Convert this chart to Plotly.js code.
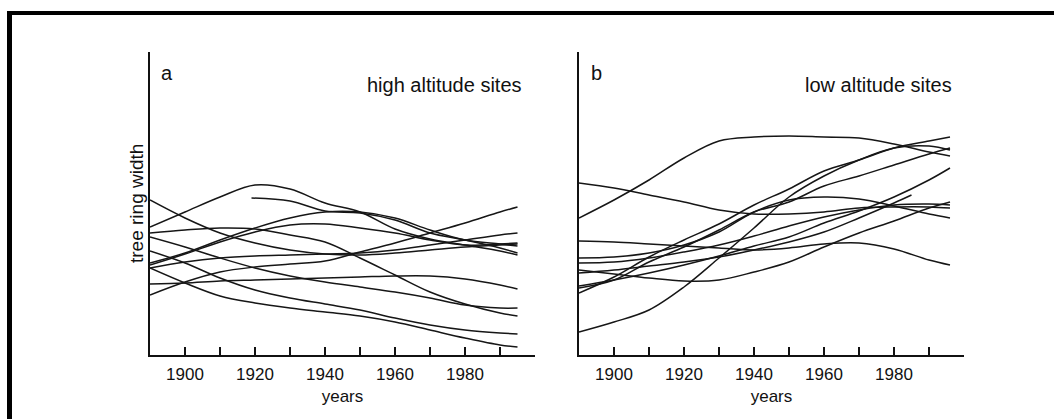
<!DOCTYPE html>
<html><head><meta charset="utf-8">
<script src="https://cdn.plot.ly/plotly-3.0.1.min.js"></script>
<style>html,body{margin:0;padding:0;background:#fff;}#chart{width:1054px;height:419px;}</style>
</head><body><div id="chart"></div>
<script>
// ---- Panel a: high altitude sites (tree ring width index, arbitrary units) ----
const yearsA = [1890,1900,1910,1920,1930,1940,1950,1960,1970,1980,1990,1995];
const yearsA2 = [1919,1930,1940,1950,1960,1970,1980,1990,1995];
const highA1 = [1.28,1.43,1.58,1.70,1.66,1.52,1.43,1.26,1.16,1.10,1.04,1.00];
const highA2 = [1.57,1.54,1.44,1.42,1.35,1.22,1.15,1.07,1.02];
const highA3 = [1.55,1.37,1.22,1.12,1.05,1.01,1.00,1.02,1.05,1.08,1.10,1.11];
const highA4 = [0.92,1.02,1.15,1.27,1.37,1.43,1.43,1.37,1.25,1.15,1.11,1.09];
const highA5 = [0.90,1.01,1.13,1.23,1.30,1.31,1.27,1.22,1.15,1.10,1.11,1.12];
const highA6 = [0.60,0.73,0.83,0.88,0.91,0.94,1.03,1.12,1.22,1.32,1.43,1.48];
const highA7 = [0.87,0.93,0.97,0.99,1.00,1.01,1.02,1.05,1.10,1.15,1.20,1.22];
const highA8 = [0.71,0.72,0.74,0.75,0.76,0.77,0.78,0.79,0.79,0.76,0.70,0.66];
const highA9 = [1.22,1.25,1.27,1.26,1.20,1.13,0.97,0.80,0.63,0.51,0.42,0.39];
const highA10 = [1.18,1.08,0.97,0.87,0.79,0.73,0.68,0.63,0.57,0.50,0.47,0.47];
const highA11 = [1.04,0.92,0.77,0.65,0.57,0.51,0.45,0.37,0.30,0.25,0.22,0.21];
const highA12 = [0.87,0.72,0.59,0.52,0.47,0.43,0.39,0.33,0.25,0.17,0.10,0.08];

// ---- Panel b: low altitude sites ----
const yearsB = [1890,1900,1910,1920,1930,1940,1950,1960,1970,1980,1990,1996];
const yearsB9 = [1890,1900,1910,1920,1930,1940,1950,1960,1970,1980,1985];
const lowB1 = [1.37,1.55,1.75,1.97,2.14,2.18,2.19,2.18,2.17,2.11,2.03,1.99];
const lowB2 = [1.72,1.67,1.60,1.53,1.45,1.41,1.41,1.43,1.47,1.48,1.48,1.47];
const lowB3 = [1.14,1.13,1.11,1.09,1.07,1.05,1.07,1.11,1.12,1.06,0.95,0.90];
const lowB4 = [0.23,0.33,0.45,0.68,0.97,1.27,1.58,1.79,1.95,2.07,2.09,2.05];
const lowB5 = [0.85,0.81,0.77,0.74,0.75,0.83,0.93,1.08,1.22,1.34,1.47,1.53];
const lowB6 = [0.62,0.78,0.98,1.15,1.31,1.50,1.66,1.84,1.95,2.07,2.14,2.18];
const lowB7 = [0.67,0.75,0.93,1.08,1.25,1.43,1.53,1.69,1.79,1.90,2.01,2.07];
const lowB8 = [0.69,0.75,0.82,0.90,0.99,1.09,1.18,1.32,1.44,1.58,1.75,1.87];
const lowB9 = [0.82,0.85,0.89,0.93,0.98,1.05,1.13,1.23,1.37,1.52,1.60];
const lowB10 = [0.97,0.98,1.02,1.10,1.23,1.43,1.55,1.58,1.56,1.49,1.41,1.37];
const lowB11 = [0.92,0.93,0.97,1.03,1.10,1.19,1.29,1.38,1.45,1.50,1.51,1.50];

const tickVals = [1900,1910,1920,1930,1940,1950,1960,1970,1980,1990,2000];
const tickText = ['1900','','1920','','1940','','1960','','1980','',''];
const panelLetters = ['a','b'];
const panelTitles = ['high altitude sites','low altitude sites'];
const xTitle = 'years';
const yTitle = 'tree ring width';

const FONT = 'Liberation Sans, Arial, Helvetica, sans-serif';
const lineStyle = {color:'#161616', width:1.5, shape:'spline', smoothing:1};

const seriesA = [[yearsA,highA1],[yearsA2,highA2],[yearsA,highA3],[yearsA,highA4],[yearsA,highA5],[yearsA,highA6],
  [yearsA,highA7],[yearsA,highA8],[yearsA,highA9],[yearsA,highA10],[yearsA,highA11],[yearsA,highA12]];
const seriesB = [[yearsB,lowB1],[yearsB,lowB2],[yearsB,lowB3],[yearsB,lowB4],[yearsB,lowB5],[yearsB,lowB6],
  [yearsB,lowB7],[yearsB,lowB8],[yearsB9,lowB9],[yearsB,lowB10],[yearsB,lowB11]];

const traces = [];
seriesA.forEach(s => traces.push({x:s[0], y:s[1], type:'scatter', mode:'lines', line:lineStyle, xaxis:'x', yaxis:'y', hoverinfo:'skip'}));
seriesB.forEach(s => traces.push({x:s[0], y:s[1], type:'scatter', mode:'lines', line:lineStyle, xaxis:'x2', yaxis:'y2', hoverinfo:'skip'}));

const W = 1054, H = 419;
const px = v => v / W;
const py = v => 1 - v / H;

function xaxisDef(d0, d1, anchor){
  return {
    domain:[px(d0), px(d1)], range:[1890, 2000], anchor:anchor,
    showline:true, linecolor:'#111', linewidth:2, mirror:false,
    showgrid:false, zeroline:false,
    ticks:'inside', ticklen:8, tickwidth:1.5, tickcolor:'#111',
    tickmode:'array', tickvals:tickVals, ticktext:tickText,
    ticklabelstandoff:3,
    tickfont:{family:FONT, size:17, color:'#111'},
    title:{text:xTitle, font:{family:FONT, size:17, color:'#111'}, standoff:7},
    fixedrange:true
  };
}
function yaxisDef(anchor){
  return {
    domain:[py(355), py(52)], range:[0, 3.03], anchor:anchor,
    showline:true, linecolor:'#111', linewidth:2,
    showgrid:false, zeroline:false, showticklabels:false, ticks:'',
    fixedrange:true
  };
}

const layout = {
  width:W, height:H, margin:{l:0,r:0,t:0,b:0},
  paper_bgcolor:'#fff', plot_bgcolor:'#fff', showlegend:false,
  xaxis: xaxisDef(150, 535, 'y'),
  yaxis: yaxisDef('x'),
  xaxis2: xaxisDef(579, 964, 'y2'),
  yaxis2: yaxisDef('x2'),
  shapes:[
    {type:'rect', xref:'paper', yref:'paper', x0:px(7), x1:1, y0:py(15), y1:py(11), fillcolor:'#000', line:{width:0}},
    {type:'rect', xref:'paper', yref:'paper', x0:px(7), x1:px(12), y0:0, y1:py(11), fillcolor:'#000', line:{width:0}}
  ],
  annotations:[
    {text:panelLetters[0], xref:'paper', yref:'paper', x:px(167), y:py(73), xanchor:'center', yanchor:'middle', showarrow:false, font:{family:FONT, size:20, color:'#111'}},
    {text:panelLetters[1], xref:'paper', yref:'paper', x:px(596), y:py(73), xanchor:'center', yanchor:'middle', showarrow:false, font:{family:FONT, size:20, color:'#111'}},
    {text:panelTitles[0], xref:'paper', yref:'paper', x:px(524), y:py(85), xanchor:'right', yanchor:'middle', showarrow:false, font:{family:FONT, size:20, color:'#111'}},
    {text:panelTitles[1], xref:'paper', yref:'paper', x:px(954), y:py(85), xanchor:'right', yanchor:'middle', showarrow:false, font:{family:FONT, size:20, color:'#111'}},
    {text:yTitle, xref:'paper', yref:'paper', x:px(136), y:py(204), xanchor:'center', yanchor:'middle', textangle:-90, showarrow:false, font:{family:FONT, size:19, color:'#111'}}
  ]
};

Plotly.newPlot('chart', traces, layout, {staticPlot:true, displayModeBar:false});
</script></body></html>
